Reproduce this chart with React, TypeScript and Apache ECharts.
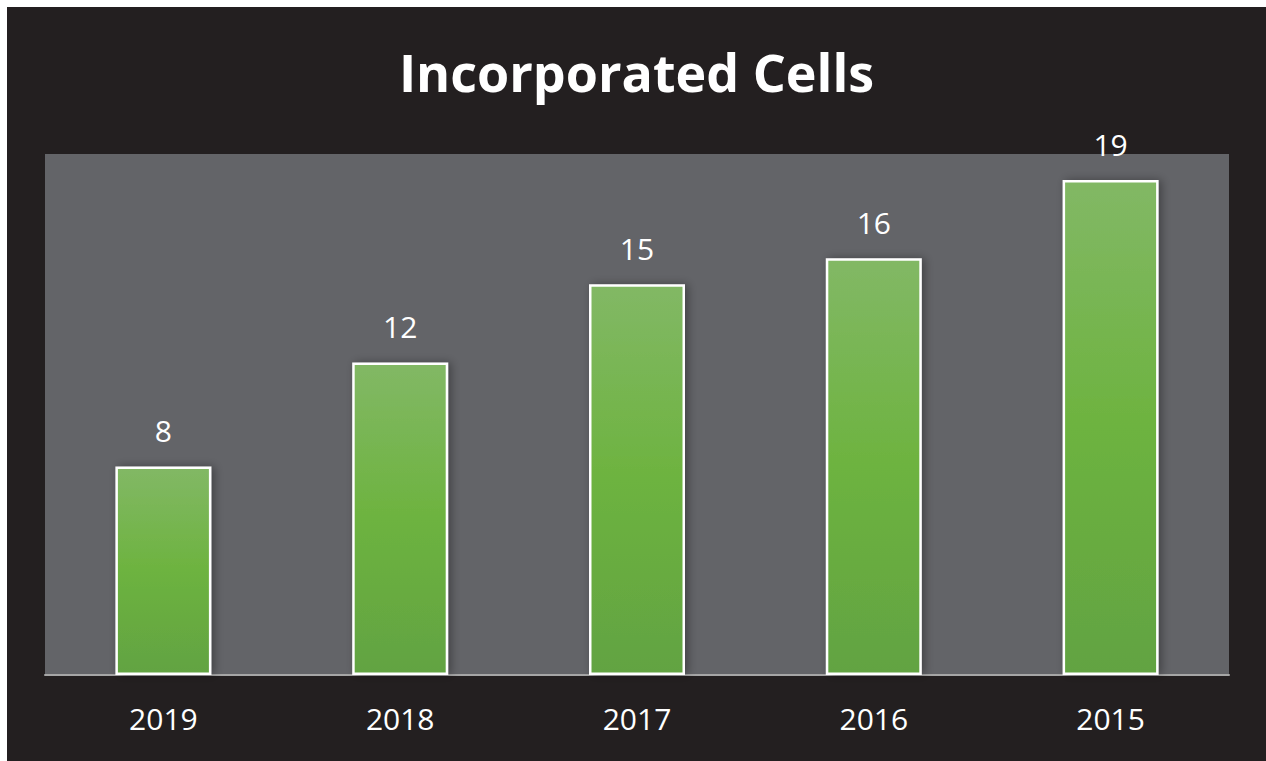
import React, { useEffect, useRef } from "react";
import * as echarts from "echarts";

const title = "Incorporated Cells";
const categories = ["2019", "2018", "2017", "2016", "2015"];
const values = [8, 12, 15, 16, 19];

export default function App() {
  const ref = useRef<HTMLDivElement>(null);
  useEffect(() => {
    if (!ref.current) return;
    const chart = echarts.init(ref.current, null, { renderer: "svg" });
    chart.setOption({
      animation: false,
      backgroundColor: "#231f20",
      title: {
        text: title,
        left: "center",
        top: 33,
        textStyle: {
          color: "#ffffff",
          fontFamily: "Open Sans",
          fontWeight: "bold",
          fontSize: 52,
        },
      },
      grid: {
        left: 38,
        right: 37,
        top: 147,
        bottom: 86,
        show: true,
        backgroundColor: "#636468",
        borderWidth: 0,
      },
      xAxis: {
        type: "category",
        data: categories,
        axisLine: { lineStyle: { color: "#a6a6a6", width: 2 } },
        axisTick: { show: false },
        axisLabel: {
          color: "#ffffff",
          fontFamily: "Open Sans",
          fontSize: 30,
          margin: 28,
        },
      },
      yAxis: {
        type: "value",
        min: 0,
        max: 20,
        show: false,
        splitLine: { show: false },
      },
      series: [
        {
          type: "bar",
          data: values,
          barWidth: 96,
          itemStyle: {
            color: new echarts.graphic.LinearGradient(0, 0, 0, 1, [
              { offset: 0, color: "#82b865" },
              { offset: 0.5, color: "#6db33f" },
              { offset: 1, color: "#62a343" },
            ]),
            borderColor: "#ffffff",
            borderWidth: 2.5,
            shadowColor: "rgba(0,0,0,0.35)",
            shadowBlur: 10,
            shadowOffsetX: 3,
          },
          label: {
            show: true,
            position: "top",
            distance: 21,
            color: "#ffffff",
            fontFamily: "Open Sans",
            fontSize: 30,
          },
        },
      ],
    });
    return () => chart.dispose();
  }, []);
  return (
    <div
      ref={ref}
      style={{ position: "fixed", left: 7, top: 7, width: 1259, height: 754 }}
    />
  );
}
